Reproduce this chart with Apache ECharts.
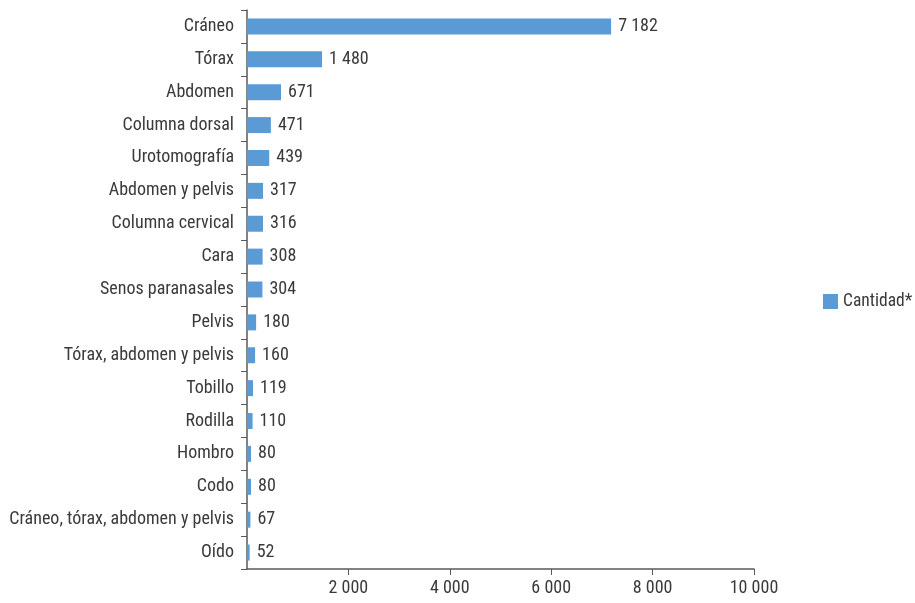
<!DOCTYPE html>
<html>
<head>
<meta charset="utf-8">
<script src="https://cdn.jsdelivr.net/npm/echarts@6/dist/echarts.min.js"></script>
<style>html,body{margin:0;padding:0;background:#fff;}#c{width:915px;height:603px;}</style>
</head>
<body>
<div id="c"></div>
<script>
const categories = ["Cráneo","Tórax","Abdomen","Columna dorsal","Urotomografía","Abdomen y pelvis","Columna cervical","Cara","Senos paranasales","Pelvis","Tórax, abdomen y pelvis","Tobillo","Rodilla","Hombro","Codo","Cráneo, tórax, abdomen y pelvis","Oído"];
const cantidad = [7182,1480,671,471,439,317,316,308,304,180,160,119,110,80,80,67,52];
const seriesName = "Cantidad*";

function fmt(v){ return String(v).replace(/\B(?=(\d{3})+(?!\d))/g, ' '); }
const FONT = "'Roboto Condensed',sans-serif";
const chart = echarts.init(document.getElementById('c'));
chart.setOption({
  animation:false,
  textStyle:{fontFamily:FONT},
  grid:{left:247,right:161,top:10,bottom:34,containLabel:false,outerBoundsMode:'none'},
  legend:{orient:'vertical',left:818,top:'middle',itemWidth:15,itemHeight:15,itemGap:10,icon:'rect',
    data:[seriesName],textStyle:{fontFamily:FONT,fontSize:17.5,color:'#3a3a3a',overflow:'none'}},
  xAxis:{type:'value',min:0,max:10000,interval:2000,
    axisLine:{show:true,lineStyle:{color:'#595959',width:1.5}},
    axisTick:{show:true,length:6,lineStyle:{color:'#595959'}},
    splitLine:{show:false},
    axisLabel:{showMinLabel:false,formatter:v=>v===0?'':fmt(v),fontFamily:FONT,fontSize:18,color:'#3a3a3a',margin:10}},
  yAxis:{type:'category',data:categories,inverse:true,
    axisLine:{show:true,lineStyle:{color:'#595959',width:1.5}},
    axisTick:{show:true,length:6,alignWithLabel:false,lineStyle:{color:'#595959'}},
    axisLabel:{fontFamily:FONT,fontSize:18,color:'#3a3a3a',margin:13}},
  series:[{name:seriesName,type:'bar',data:cantidad,barWidth:16,
    itemStyle:{color:'#5B9BD5'},
    label:{show:true,position:'right',distance:7,formatter:p=>fmt(p.value),fontFamily:FONT,fontSize:18,color:'#3a3a3a'}}]
});
</script>
</body>
</html>
